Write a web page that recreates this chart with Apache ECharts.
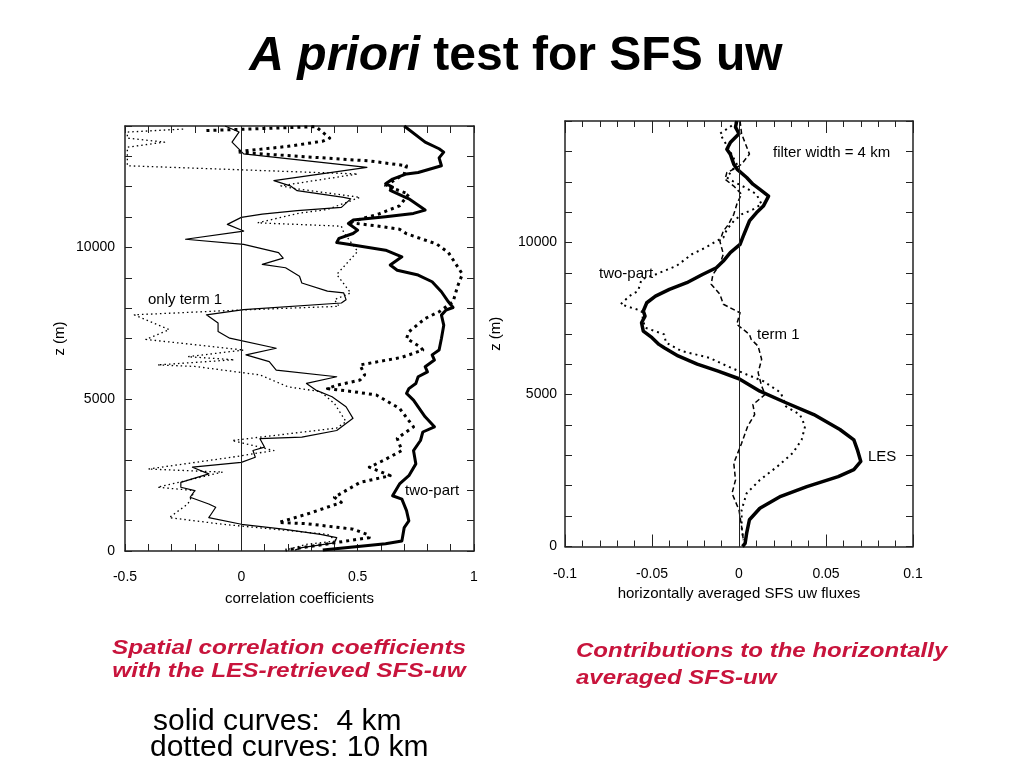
<!DOCTYPE html>
<html><head><meta charset="utf-8">
<script src="https://cdn.jsdelivr.net/npm/echarts@6/dist/echarts.min.js"></script>
<style>html,body{margin:0;padding:0;background:#fff}#c{width:1024px;height:768px}</style>
</head><body><div id="c"></div>
<script>
// ---------- tick labels ----------
const leftXLabels = [-0.5, 0, 0.5, 1];
const yLabels = [0, 5000, 10000];
const rightXLabels = [-0.1, -0.05, 0, 0.05, 0.1];

// ---------- left panel: correlation coefficients [value, z(m)] ----------
const term1_4km = [[-0.07,14000],[-0.01,13800],[-0.04,13470],[0.01,13080],[0.54,12640],[0.14,12200],[0.21,12030],[0.24,11870],[0.44,11650],[0.47,11600],[0.43,11320],[0.24,11210],[0.09,11100],[0.00,10990],[-0.06,10760],[0.01,10540],[-0.24,10270],[0.01,10100],[0.16,9830],[0.18,9650],[0.09,9440],[0.19,9330],[0.25,9050],[0.26,8830],[0.37,8560],[0.44,8500],[0.45,8280],[0.43,8170],[0.01,7950],[-0.15,7780],[-0.10,7510],[-0.10,7230],[-0.05,7010],[0.15,6680],[0.02,6460],[0.12,6240],[0.15,5960],[0.41,5740],[0.28,5520],[0.32,5300],[0.39,5080],[0.45,4750],[0.48,4370],[0.41,3970],[0.26,3750],[0.08,3700],[0.10,3420],[0.05,3310],[0.06,3090],[0.00,2920],[-0.21,2760],[-0.14,2540],[-0.26,2260],[-0.26,2100],[-0.20,1990],[-0.22,1770],[-0.14,1550],[-0.11,1440],[-0.13,1210],[-0.14,1100],[0.00,880],[0.18,720],[0.34,550],[0.41,440],[0.40,270],[0.26,110],[0.23,30]];
const term1_10km = [[-0.25,13900],[-0.49,13800],[-0.49,13600],[-0.33,13470],[-0.49,13300],[-0.49,12690],[0.50,12420],[0.17,12030],[0.22,11950],[0.51,11650],[0.37,11250],[0.25,11130],[0.07,10810],[0.43,10700],[0.44,10490],[0.50,9870],[0.41,9110],[0.47,8500],[0.40,8280],[0.42,8060],[0.00,7940],[-0.46,7780],[-0.31,7290],[-0.41,6970],[0.01,6620],[-0.23,6400],[-0.03,6300],[-0.36,6130],[-0.20,6080],[0.08,5800],[0.20,5410],[0.34,5250],[0.40,4860],[0.45,4260],[0.41,4050],[-0.04,3640],[0.14,3310],[-0.04,3090],[-0.40,2700],[-0.08,2600],[-0.36,2100],[-0.20,1990],[-0.23,1550],[-0.31,1100],[-0.08,880],[0.37,550],[0.41,330],[0.28,220],[0.19,30]];
const twoPart_4km = [[0.70,14000],[0.79,13470],[0.85,13250],[0.87,13140],[0.85,12950],[0.86,12690],[0.76,12470],[0.71,12420],[0.65,12250],[0.62,12100],[0.65,11990],[0.64,11880],[0.72,11600],[0.79,11230],[0.74,11120],[0.62,11010],[0.48,10900],[0.46,10790],[0.50,10570],[0.48,10460],[0.42,10300],[0.41,10160],[0.48,10080],[0.62,9910],[0.69,9690],[0.64,9420],[0.67,9250],[0.76,9090],[0.82,8870],[0.86,8540],[0.89,8210],[0.91,8020],[0.88,7940],[0.86,7770],[0.87,7440],[0.86,7000],[0.85,6620],[0.82,6460],[0.83,6290],[0.79,6070],[0.80,5900],[0.76,5740],[0.75,5520],[0.72,5350],[0.71,5190],[0.74,4970],[0.76,4750],[0.79,4420],[0.83,4090],[0.78,3920],[0.77,3640],[0.74,3310],[0.75,2870],[0.72,2480],[0.68,2210],[0.65,1820],[0.69,1710],[0.71,1330],[0.72,990],[0.70,770],[0.69,330],[0.62,240],[0.48,130],[0.35,30]];
const twoPart_10km = [[-0.15,13850],[0.10,13920],[0.32,13980],[0.38,13600],[0.35,13500],[0.20,13330],[-0.02,13150],[0.05,13100],[0.25,13000],[0.55,12850],[0.71,12690],[0.70,12420],[0.62,12030],[0.72,11760],[0.68,11370],[0.59,11100],[0.46,10820],[0.57,10720],[0.68,10600],[0.71,10450],[0.84,10110],[0.89,9830],[0.95,9120],[0.93,8730],[0.91,8210],[0.85,7880],[0.79,7660],[0.72,7220],[0.71,7000],[0.77,6720],[0.78,6620],[0.69,6380],[0.51,6130],[0.53,5800],[0.51,5630],[0.41,5460],[0.37,5350],[0.48,5250],[0.58,5140],[0.68,4700],[0.74,4090],[0.67,3710],[0.69,3310],[0.61,2980],[0.55,2760],[0.64,2480],[0.51,2260],[0.40,1770],[0.43,1600],[0.28,1210],[0.16,940],[0.28,900],[0.48,720],[0.54,550],[0.55,440],[0.40,270],[0.26,110],[0.19,30]];

// ---------- right panel: horizontally averaged SFS uw fluxes [value, z(m)] ----------
const lesFlux = [[-0.0013,14000],[-0.002,13800],[0,13580],[-0.005,13290],[-0.007,13070],[-0.005,12910],[-0.003,12580],[-0.001,12410],[0.0044,12140],[0.008,11920],[0.012,11750],[0.017,11530],[0.014,11200],[0.010,10980],[0.006,10710],[0.004,10430],[0.0025,10220],[0.0006,9940],[-0.005,9670],[-0.009,9390],[-0.013,9170],[-0.021,8950],[-0.030,8680],[-0.040,8460],[-0.048,8240],[-0.053,8020],[-0.055,7750],[-0.054,7580],[-0.056,7360],[-0.055,7090],[-0.050,6870],[-0.046,6650],[-0.043,6540],[-0.035,6270],[-0.024,6000],[-0.012,5770],[0,5520],[0.012,5110],[0.027,4730],[0.043,4340],[0.058,3850],[0.066,3510],[0.068,3190],[0.070,2800],[0.066,2530],[0.057,2300],[0.039,1970],[0.024,1650],[0.012,1260],[0.006,880],[0.0044,440],[0.0035,100],[0.002,0]];
const twoPartFlux = [[-0.0013,13960],[-0.011,13580],[-0.007,13200],[-0.0013,12580],[-0.007,12140],[-0.003,12000],[0.004,11800],[0.010,11590],[0.013,11260],[0.008,11090],[0.0015,10930],[-0.003,10710],[-0.007,10430],[-0.009,10160],[-0.013,10050],[-0.019,9840],[-0.027,9620],[-0.036,9230],[-0.048,8950],[-0.056,8790],[-0.058,8410],[-0.063,8240],[-0.068,7970],[-0.056,7750],[-0.055,7420],[-0.054,7200],[-0.043,6980],[-0.042,6710],[-0.033,6430],[-0.017,6210],[-0.007,5940],[0.0044,5660],[0.014,5440],[0.024,5060],[0.027,4610],[0.035,4340],[0.038,3960],[0.036,3510],[0.031,3080],[0.022,2630],[0.012,2190],[0.0044,1750],[0.0015,1200],[0.0015,650],[0.0025,210]];
const term1Flux = [[0.0006,14000],[0.0015,13580],[0.006,12910],[0.0015,12580],[-0.0013,12470],[-0.007,12300],[-0.008,12080],[-0.003,11860],[0.0015,11590],[-0.001,11310],[-0.003,10930],[-0.006,10600],[-0.009,10380],[-0.011,10050],[-0.009,9620],[-0.011,9280],[-0.015,8950],[-0.016,8630],[-0.011,8300],[-0.009,7970],[0.0006,7690],[-0.0013,7310],[0.006,6980],[0.007,6815],[0.011,6590],[0.013,6160],[0.011,5720],[0.013,5280],[0.015,5000],[0.008,4670],[0.009,4340],[0.005,3960],[0.0015,3400],[-0.003,2740],[-0.002,2190],[-0.004,1750],[0,1200],[0.0015,650],[0.0025,210]];

const FONT = '"Liberation Sans", Arial, Helvetica, sans-serif';
const RED = '#C8143C';

function pick(list, dec) {
  const f = Math.pow(10, dec);
  return v => { const r = Math.round(v * f) / f; return list.some(l => Math.abs(l - r) < 1e-9) ? String(r) : ''; };
}
const frame = { show: true, onZero: false, lineStyle: { color: '#222', width: 1.5 } };
function xAx(grid, pos, min, max, interval, labels, dec, name, nameGap, tickLen, minor, margin) {
  return {
    type: 'value', gridIndex: grid, position: pos, min, max, interval,
    axisLine: frame, splitLine: { show: false },
    axisTick: { show: true, inside: true, length: tickLen, lineStyle: { color: '#222', width: 1 } },
    minorTick: minor ? { show: true, splitNumber: 5, length: 6, lineStyle: { color: '#222', width: 1 } } : { show: false },
    axisLabel: labels ? { show: true, formatter: pick(labels, dec), fontFamily: FONT, fontSize: 14, color: '#000', margin: margin } : { show: false },
    name: name || '', nameLocation: 'middle', nameGap: nameGap || 0,
    nameTextStyle: { fontFamily: FONT, fontSize: 15, color: '#000' }
  };
}
function yAx(grid, pos, labels, name, nameGap, margin) {
  return {
    type: 'value', gridIndex: grid, position: pos, min: 0, max: 14000, interval: 1000,
    axisLine: frame, splitLine: { show: false },
    axisTick: { show: true, inside: true, length: 7, lineStyle: { color: '#222', width: 1 } },
    axisLabel: labels ? { show: true, formatter: pick(labels, 0), fontFamily: FONT, fontSize: 14, color: '#000', margin: margin } : { show: false },
    name: name || '', nameLocation: 'middle', nameGap: nameGap || 0, nameRotate: 90,
    nameTextStyle: { fontFamily: FONT, fontSize: 15, color: '#000' }
  };
}
function line(data, xi, yi, width, type, extra) {
  return Object.assign({
    type: 'line', xAxisIndex: xi, yAxisIndex: yi, data: data, symbol: 'none', showSymbol: false,
    silent: true, animation: false,
    lineStyle: { color: '#000', width: width, type: type, cap: 'butt', join: 'round' }
  }, extra || {});
}
const zeroLine = { markLine: { silent: true, symbol: 'none', label: { show: false }, animation: false,
  lineStyle: { color: '#222', width: 1, type: 'solid' }, data: [{ xAxis: 0 }] } };

function label(text, x, y, size) {
  return { type: 'text', x: x, y: y, silent: true,
    style: { text: text, fontFamily: FONT, fontSize: size || 15, fill: '#000', align: 'left', verticalAlign: 'middle' } };
}
function caption(text, x, y, align, sx) {
  return { type: 'text', x: x, y: y, scaleX: sx, silent: true,
    style: { text: text, fontFamily: FONT, fontSize: 21, fontWeight: 'bold', fontStyle: 'italic', fill: RED, align: align, verticalAlign: 'middle' } };
}

const chart = echarts.init(document.getElementById('c'), null, { renderer: 'canvas' });
chart.setOption({
  backgroundColor: '#fff',
  animation: false,
  grid: [
    { left: 125, top: 126, width: 349, height: 425 },
    { left: 565, top: 121, width: 348, height: 425.5 }
  ],
  xAxis: [
    xAx(0, 'bottom', -0.5, 1, 0.1, leftXLabels, 1, 'correlation coefficients', 40, 7, false, 19),
    xAx(0, 'top', -0.5, 1, 0.1, null, 1, '', 0, 7, false, 0),
    xAx(1, 'bottom', -0.1, 0.1, 0.05, rightXLabels, 2, 'horizontally averaged SFS uw fluxes', 39, 12, true, 21),
    xAx(1, 'top', -0.1, 0.1, 0.05, null, 2, '', 0, 12, true, 0)
  ],
  yAxis: [
    yAx(0, 'left', yLabels, 'z (m)', 58, 10),
    yAx(0, 'right', null),
    yAx(1, 'left', yLabels, 'z (m)', 62, 8),
    yAx(1, 'right', null)
  ],
  series: [
    line(term1_10km, 0, 0, 1.3, [1.5, 3]),
    line(twoPart_10km, 0, 0, 3, [3, 4]),
    line(term1_4km, 0, 0, 1.2, 'solid', zeroLine),
    line(twoPart_4km, 0, 0, 3, 'solid'),
    line(term1Flux, 2, 2, 1.5, [5, 3], zeroLine),
    line(twoPartFlux, 2, 2, 2, [2, 4]),
    line(lesFlux, 2, 2, 3.5, 'solid')
  ],
  graphic: [
    { type: 'text', x: 516, y: 57, silent: true,
      style: { text: '{i|A priori}{b| test for SFS uw}', align: 'center', verticalAlign: 'middle',
        rich: {
          i: { fontFamily: FONT, fontSize: 48, fontWeight: 'bold', fontStyle: 'italic', fill: '#000' },
          b: { fontFamily: FONT, fontSize: 48, fontWeight: 'bold', fill: '#000' }
        } } },
    label('only term 1', 148, 300),
    label('two-part', 405, 491),
    label('filter width = 4 km', 773, 153),
    label('two-part', 599, 274),
    label('term 1', 757, 335),
    label('LES', 868, 457),
    caption('Spatial correlation coefficients', 289, 648, 'center', 1.16),
    caption('with the LES-retrieved SFS-uw', 289, 671, 'center', 1.16),
    caption('Contributions to the horizontally', 576, 651, 'left', 1.145),
    caption('averaged SFS-uw', 576, 678, 'left', 1.145),
    label('solid curves:  4 km', 153, 722, 30),
    label('dotted curves: 10 km', 150, 748, 30)
  ]
});
</script></body></html>
